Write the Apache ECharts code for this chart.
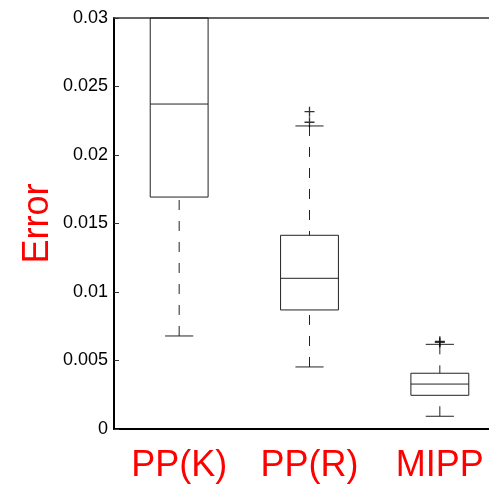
<!DOCTYPE html>
<html>
<head>
<meta charset="utf-8">
<script src="https://cdn.jsdelivr.net/npm/echarts@6/dist/echarts.min.js"></script>
<style>
  html, body { margin: 0; padding: 0; background: #fff; }
  #chartmain { width: 489px; height: 484px; }
</style>
</head>
<body>
<div id="chartmain"></div>
<script>
// 类别
var categories = ['PP(K)', 'PP(R)', 'MIPP'];
// 箱线图数据: [下须, Q1, 中位数, Q3, 上须]
var lowWhisker = [0.00679, 0.00453, 0.00093];
var q1Values = [0.01693, 0.00869, 0.00246];
var medianValues = [0.02372, 0.01100, 0.00328];
var q3Values = [0.03150, 0.01414, 0.00407];
var highWhisker = [0.04200, 0.02212, 0.00618];
// 异常值
var outlierCat = [1, 1, 2, 2];
var outlierVal = [0.02239, 0.02316, 0.00632, 0.00640];
// y轴刻度
var yTicks = [0, 0.005, 0.01, 0.015, 0.02, 0.025, 0.03];

var yMin = yTicks[0], yMax = yTicks[yTicks.length - 1];

var boxData = [];
for (var i = 0; i < categories.length; i++) {
  boxData.push([i, lowWhisker[i], q1Values[i], medianValues[i], q3Values[i], highWhisker[i]]);
}
var outData = [];
for (var j = 0; j < outlierVal.length; j++) {
  outData.push([outlierCat[j], outlierVal[j]]);
}

function renderBox(params, api) {
  var x = api.value(0);
  var lo = api.value(1), q1 = api.value(2), med = api.value(3), q3 = api.value(4), hi = api.value(5);
  var bw = api.size([1, 0])[0];
  var half = bw * 0.222, cap = bw * 0.108;
  function pt(v) { return api.coord([x, Math.min(Math.max(v, yMin), yMax)]); }
  var c = pt(med);
  var cx = c[0];
  var pTop = pt(q3), pBot = pt(q1), pLo = pt(lo), pHi = pt(hi);
  var solid = { stroke: '#222', lineWidth: 1, fill: null };
  var dashed = { stroke: '#222', lineWidth: 1, lineDash: [10, 11], fill: null };
  var kids = [
    { type: 'rect', shape: { x: cx - half, y: pTop[1], width: half * 2, height: pBot[1] - pTop[1] }, style: solid },
    { type: 'line', shape: { x1: cx - half, y1: c[1], x2: cx + half, y2: c[1] }, style: solid },
    { type: 'line', shape: { x1: cx, y1: pLo[1], x2: cx, y2: pBot[1] }, style: dashed },
    { type: 'line', shape: { x1: cx - cap, y1: pLo[1], x2: cx + cap, y2: pLo[1] }, style: solid }
  ];
  if (q3 < yMax) {
    kids.push({ type: 'line', shape: { x1: cx, y1: pHi[1], x2: cx, y2: pTop[1] }, style: dashed });
    if (hi < yMax) {
      kids.push({ type: 'line', shape: { x1: cx - cap, y1: pHi[1], x2: cx + cap, y2: pHi[1] }, style: solid });
    }
  }
  return { type: 'group', children: kids };
}

var fontFam = '"Liberation Sans", Arial, sans-serif';

option = {
  backgroundColor: '#fff',
  animation: false,
  grid: { left: 114, top: 18, height: 411, width: 391, outerBoundsMode: 'none', containLabel: false },
  xAxis: [{
    type: 'category',
    data: categories,
    position: 'bottom',
    axisLine: { lineStyle: { color: '#000', width: 2 } },
    axisTick: { inside: true, alignWithLabel: true, length: 5, lineStyle: { color: '#444' } },
    axisLabel: { color: '#ff0000', fontSize: 36, fontFamily: fontFam, margin: 19, interval: 0, hideOverlap: false }
  }, {
    type: 'category',
    data: categories,
    position: 'top',
    axisLine: { lineStyle: { color: '#333', width: 1.5 } },
    axisTick: { inside: true, alignWithLabel: true, length: 5, lineStyle: { color: '#444' } },
    axisLabel: { show: false }
  }],
  yAxis: {
    type: 'value',
    min: yMin,
    max: yMax,
    interval: 0.005,
    name: 'Error',
    nameLocation: 'middle',
    nameGap: 58,
    nameMoveOverlap: false,
    nameTextStyle: { color: '#ff0000', fontSize: 36, fontFamily: fontFam },
    splitLine: { show: false },
    axisLine: { show: true, lineStyle: { color: '#000', width: 2 } },
    axisTick: { show: true, inside: true, length: 5, lineStyle: { color: '#333' } },
    axisLabel: {
      color: '#000', fontSize: 18, fontFamily: fontFam, margin: 6,
      formatter: function (v) { return String(+v.toFixed(3)); }
    }
  },
  series: [{
    type: 'custom',
    renderItem: renderBox,
    data: boxData,
    encode: { x: 0, y: [1, 2, 3, 4, 5] },
    z: 3
  }, {
    type: 'scatter',
    data: outData,
    symbol: 'path://M0,5L10,5M5,0L5,10',
    symbolSize: 10,
    itemStyle: { color: 'none', borderColor: '#000', borderWidth: 1.3 },
    z: 4
  }]
};

var myChart = echarts.init(document.getElementById('chartmain'));
myChart.setOption(option);
</script>
</body>
</html>
